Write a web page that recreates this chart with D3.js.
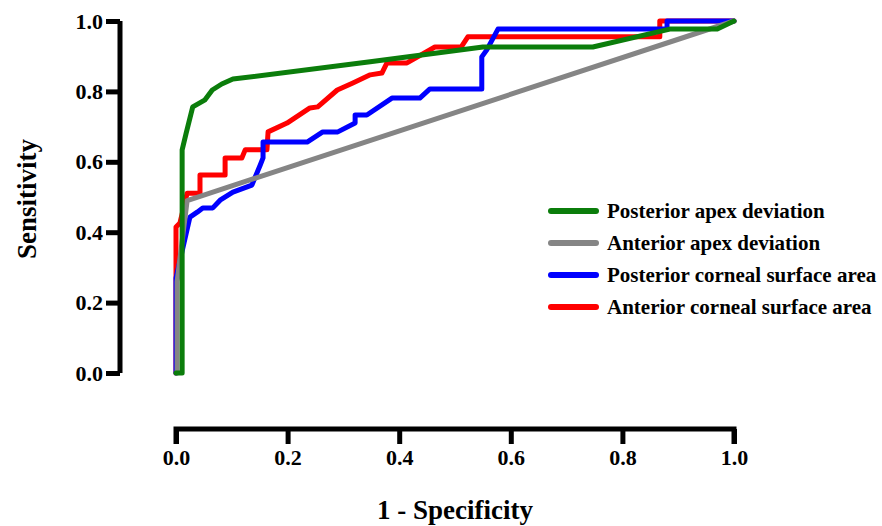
<!DOCTYPE html>
<html>
<head>
<meta charset="utf-8">
<script src="https://cdn.jsdelivr.net/npm/d3@7"></script>
<style>
  body { margin: 0; background: #fff; }
  svg text { font-family: "Liberation Serif", "Times New Roman", serif; font-weight: bold; fill: #000; }
</style>
</head>
<body>
<svg id="roc" width="882" height="526"></svg>
<script>
// series: [1 - specificity, sensitivity]
var posteriorApex = [[0,0],[0.011,0],[0.011,0.634],[0.018,0.68],[0.03,0.756],[0.052,0.776],[0.065,0.804],
  [0.082,0.821],[0.102,0.835],[0.348,0.884],[0.55,0.926],[0.747,0.926],[0.885,0.977],[0.97,0.977],[1,1]];
var anteriorApex = [[0.002,0],[0.002,0.26],[0.02,0.49],[1,1]];
var posteriorArea = [[0,0],[0,0.27],[0.025,0.443],[0.038,0.457],[0.048,0.469],[0.066,0.469],[0.079,0.491],
  [0.102,0.514],[0.136,0.534],[0.145,0.568],[0.151,0.591],[0.156,0.611],[0.156,0.656],[0.235,0.656],
  [0.263,0.685],[0.29,0.685],[0.321,0.71],[0.321,0.733],[0.342,0.733],[0.387,0.781],[0.437,0.781],
  [0.455,0.807],[0.548,0.807],[0.548,0.898],[0.557,0.918],[0.577,0.977],[0.88,0.977],[0.88,1],[1,1]];
var anteriorArea = [[0,0],[0,0.415],[0.007,0.426],[0.02,0.511],[0.043,0.511],[0.043,0.5625],[0.088,0.5625],
  [0.088,0.611],[0.118,0.611],[0.124,0.634],[0.163,0.634],[0.165,0.685],[0.199,0.71],[0.24,0.753],
  [0.254,0.756],[0.289,0.804],[0.317,0.824],[0.348,0.847],[0.369,0.852],[0.378,0.881],[0.414,0.881],
  [0.464,0.926],[0.511,0.926],[0.523,0.955],[0.867,0.955],[0.867,1],[1,1]];

var seriesNames = ["Posterior apex deviation", "Anterior apex deviation", "Posterior corneal surface area", "Anterior corneal surface area"];
var seriesColors = ["#0b7d0b", "#858585", "#0000ff", "#ff0000"];
var tickValues = [0, 0.2, 0.4, 0.6, 0.8, 1.0];

var svg = d3.select("#roc");
var x = d3.scaleLinear().domain([0, 1]).range([176, 734]);
var y = d3.scaleLinear().domain([0, 1]).range([373, 21]);

// y axis sits off to the left of the plot
var yAxis = svg.append("g").attr("transform", "translate(120,0)")
  .call(d3.axisLeft(y).tickValues(tickValues).tickFormat(d3.format(".1f")).tickSize(14).tickSizeOuter(0).tickPadding(3));
// x axis sits below the plot
var xAxis = svg.append("g").attr("transform", "translate(0,429)")
  .call(d3.axisBottom(x).tickValues(tickValues).tickFormat(d3.format(".1f")).tickSize(15).tickSizeOuter(0).tickPadding(5));

[yAxis, xAxis].forEach(function(ax){
  ax.select(".domain").attr("stroke", "#000").attr("stroke-width", 5);
  ax.selectAll(".tick line").attr("stroke", "#000").attr("stroke-width", 5);
  ax.selectAll(".tick text").attr("font-size", 22).attr("font-family", null);
});
xAxis.select(".domain").attr("d", "M" + x(0) + ",15V0H" + x(1) + "V15");
yAxis.select(".domain").attr("d", "M0," + y(0) + "V" + y(1));

var line = d3.line().x(function(d){ return x(d[0]); }).y(function(d){ return y(d[1]); });

// drawn bottom to top: red, blue, gray, green
var drawOrder = [[anteriorArea, 3], [posteriorArea, 2], [anteriorApex, 1], [posteriorApex, 0]];
drawOrder.forEach(function(s){
  svg.append("path").datum(s[0]).attr("d", line)
    .attr("fill", "none").attr("stroke", seriesColors[s[1]]).attr("stroke-width", 5)
    .attr("stroke-linejoin", "round").attr("stroke-linecap", "round");
});

var legend = svg.append("g");
seriesNames.forEach(function(name, i){
  var ly = 211 + i * 32;
  legend.append("line").attr("x1", 551).attr("x2", 596).attr("y1", ly).attr("y2", ly)
    .attr("stroke", seriesColors[i]).attr("stroke-width", 6).attr("stroke-linecap", "round");
  legend.append("text").attr("x", 607).attr("y", ly + 7).attr("font-size", 21).text(name);
});

svg.append("text").attr("transform", "translate(36,199) rotate(-90)")
  .attr("text-anchor", "middle").attr("font-size", 27).text("Sensitivity");
svg.append("text").attr("x", 455).attr("y", 519)
  .attr("text-anchor", "middle").attr("font-size", 27).text("1 - Specificity");
</script>
</body>
</html>
